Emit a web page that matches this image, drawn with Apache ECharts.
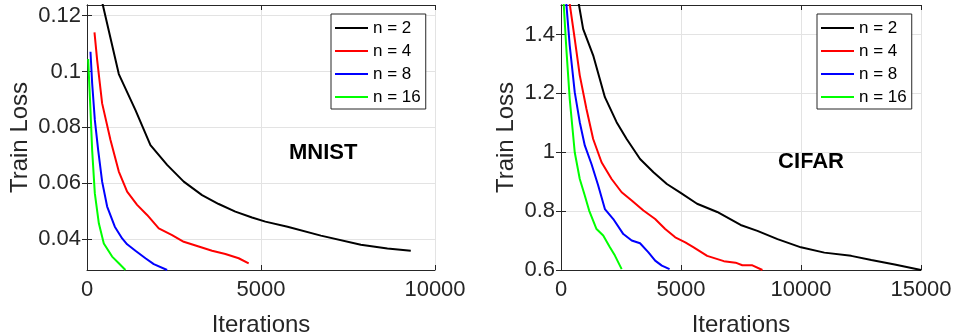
<!DOCTYPE html>
<html>
<head>
<meta charset="utf-8">
<script src="https://cdn.jsdelivr.net/npm/echarts@6/dist/echarts.min.js"></script>
<style>
  html, body { margin: 0; padding: 0; background: #fff; }
  #main { width: 953px; height: 334px; }
</style>
</head>
<body>
<div id="main"></div>
<script>
// legend names
const names = ["n = 2", "n = 4", "n = 8", "n = 16"];
const colors = ["#000000", "#ff0000", "#0000ff", "#00ff00"];

// MNIST panel: [iterations, train loss]
const mnistN2 = [[340, 0.130], [455, 0.1238], [914, 0.0991], [1393, 0.0862], [1823, 0.0737], [2302, 0.0666],
  [2780, 0.0606], [3306, 0.0558], [3785, 0.0526], [4263, 0.0499], [4742, 0.0478], [5125, 0.0463],
  [5763, 0.0445], [6721, 0.0413], [7869, 0.0380], [8633, 0.0367], [9304, 0.0359]];
const mnistN4 = [[215, 0.114], [292, 0.1041], [435, 0.0886], [675, 0.0755], [914, 0.0642], [1153, 0.0570],
  [1440, 0.0523], [1727, 0.0487], [2062, 0.0439], [2445, 0.0415], [2780, 0.0391], [3210, 0.0374],
  [3593, 0.0359], [3976, 0.0347], [4359, 0.0332], [4646, 0.0314]];
const mnistN8 = [[100, 0.1071], [148, 0.0958], [225, 0.0827], [321, 0.0719], [435, 0.0606], [579, 0.0517],
  [799, 0.0445], [1010, 0.0403], [1153, 0.0382], [1392, 0.0359], [1679, 0.0332], [1919, 0.0311], [2302, 0.0290]];
const mnistN16 = [[33, 0.1045], [100, 0.0862], [148, 0.0719], [225, 0.0564], [340, 0.0457], [483, 0.0385],
  [722, 0.0338], [914, 0.0314], [1105, 0.0290]];

// CIFAR panel: [iterations, train loss]
const cifarN2 = [[650, 1.60], [740, 1.504], [921, 1.419], [1340, 1.329], [1829, 1.187], [2317, 1.102], [2736, 1.045],
  [3294, 0.977], [3853, 0.932], [4411, 0.892], [4971, 0.863], [5670, 0.825], [6508, 0.797], [7484, 0.753],
  [8183, 0.733], [9021, 0.705], [9997, 0.677], [10973, 0.659], [12091, 0.648], [12929, 0.634], [13904, 0.619],
  [15000, 0.600]];
const cifarN4 = [[290, 1.59], [363, 1.504], [572, 1.385], [782, 1.261], [1061, 1.147], [1340, 1.045], [1689, 0.966],
  [2108, 0.909], [2527, 0.864], [2946, 0.836], [3434, 0.802], [3923, 0.773], [4341, 0.739], [4760, 0.711],
  [5179, 0.694], [5528, 0.677], [6090, 0.648], [6784, 0.630], [7275, 0.625], [7555, 0.616], [7974, 0.616],
  [8393, 0.600]];
const cifarN8 = [[180, 1.56], [223, 1.504], [363, 1.363], [572, 1.204], [782, 1.102], [991, 1.023], [1270, 0.960],
  [1550, 0.887], [1829, 0.807], [2178, 0.773], [2597, 0.722], [2946, 0.700], [3294, 0.691], [3643, 0.660],
  [3923, 0.632], [4202, 0.615], [4523, 0.603]];
const cifarN16 = [[80, 1.60], [112, 1.504], [223, 1.351], [363, 1.181], [572, 1.000], [782, 0.909], [991, 0.853],
  [1173, 0.802], [1480, 0.739], [1759, 0.717], [2038, 0.677], [2247, 0.649], [2527, 0.603]];

// tick labels
const mnistXTicks = [0, 5000, 10000];
const mnistYTicks = [0.04, 0.06, 0.08, 0.1, 0.12];
const cifarXTicks = [0, 5000, 10000, 15000];
const cifarYTicks = [0.6, 0.8, 1, 1.2, 1.4];

const FONT = "Liberation Sans";
const AXIS_COLOR = "#262626";
const GRID_COLOR = "#e3e3e3";

function xAxisMain(grid, ticks, min, max) {
  return {
    type: "value", gridIndex: grid, position: "bottom", min: min, max: max,
    name: "Iterations", nameLocation: "middle", nameGap: 43,
    nameTextStyle: { fontFamily: FONT, fontSize: 24, color: AXIS_COLOR },
    axisLine: { show: true, lineStyle: { color: AXIS_COLOR, width: 1 } },
    axisTick: { show: true, inside: true, length: 5, customValues: ticks, lineStyle: { color: AXIS_COLOR } },
    axisLabel: {
      customValues: ticks, margin: 9, fontFamily: FONT, fontSize: 22, color: AXIS_COLOR,
      formatter: function(v) { return String(v); }
    },
    splitLine: { show: true, lineStyle: { color: GRID_COLOR, width: 1 } }
  };
}
function xAxisTop(grid, ticks, min, max) {
  return {
    type: "value", gridIndex: grid, position: "top", min: min, max: max,
    axisLine: { show: true, lineStyle: { color: AXIS_COLOR, width: 1 } },
    axisTick: { show: true, inside: true, length: 5, customValues: ticks, lineStyle: { color: AXIS_COLOR } },
    axisLabel: { show: false, customValues: ticks },
    splitLine: { show: false }
  };
}
function yAxisMain(grid, ticks, min, max, gap) {
  return {
    type: "value", gridIndex: grid, position: "left", min: min, max: max,
    name: "Train Loss", nameLocation: "middle", nameGap: gap,
    nameTextStyle: { fontFamily: FONT, fontSize: 24, color: AXIS_COLOR },
    axisLine: { show: true, lineStyle: { color: AXIS_COLOR, width: 1 } },
    axisTick: { show: true, inside: true, length: 5, customValues: ticks, lineStyle: { color: AXIS_COLOR } },
    axisLabel: { customValues: ticks, margin: 6, fontFamily: FONT, fontSize: 22, color: AXIS_COLOR },
    splitLine: { show: true, lineStyle: { color: GRID_COLOR, width: 1 } }
  };
}
function yAxisRight(grid, ticks, min, max) {
  return {
    type: "value", gridIndex: grid, position: "right", min: min, max: max,
    axisLine: { show: true, lineStyle: { color: AXIS_COLOR, width: 1 } },
    axisTick: { show: true, inside: true, length: 5, customValues: ticks, lineStyle: { color: AXIS_COLOR } },
    axisLabel: { show: false, customValues: ticks },
    splitLine: { show: false }
  };
}
function lineSeries(i, data, xi, yi) {
  return {
    name: names[i], type: "line", data: data, xAxisIndex: xi, yAxisIndex: yi,
    showSymbol: false, symbol: "none", clip: true, z: 10 - i,
    lineStyle: { color: colors[i], width: 2 }, itemStyle: { color: colors[i] }
  };
}
function legendAt(left) {
  return {
    data: names, orient: "vertical", align: "left", left: left, top: 14,
    icon: "rect", itemWidth: 33, itemHeight: 2, itemGap: 3,
    padding: [4, 5, 2, 4],
    borderColor: AXIS_COLOR, borderWidth: 1, backgroundColor: "#fff",
    selectedMode: false,
    textStyle: { fontFamily: FONT, fontSize: 17, color: "#000", lineHeight: 20 }
  };
}

let myChart = echarts.init(document.getElementById("main"), null, { renderer: "canvas" });
let option = {
  animation: false,
  backgroundColor: "#fff",
  grid: [
    { left: 87, top: 5, width: 348, height: 265, outerBoundsMode: "none" },
    { left: 561, top: 5, width: 360, height: 265, outerBoundsMode: "none" }
  ],
  xAxis: [
    xAxisMain(0, mnistXTicks, 0, 10000),
    xAxisTop(0, mnistXTicks, 0, 10000),
    xAxisMain(1, cifarXTicks, 0, 15000),
    xAxisTop(1, cifarXTicks, 0, 15000)
  ],
  yAxis: [
    yAxisMain(0, mnistYTicks, 0.029, 0.1238, 55),
    yAxisRight(0, mnistYTicks, 0.029, 0.1238),
    yAxisMain(1, cifarYTicks, 0.6, 1.5, 43),
    yAxisRight(1, cifarYTicks, 0.6, 1.5)
  ],
  legend: [legendAt(331), legendAt(817)],
  graphic: [
    { type: "text", left: 289, top: 142, style: { text: "MNIST", fontFamily: FONT, fontWeight: "bold", fontSize: 22, fill: "#000" } },
    { type: "text", left: 778, top: 151, style: { text: "CIFAR", fontFamily: FONT, fontWeight: "bold", fontSize: 22, fill: "#000" } }
  ],
  series: [
    lineSeries(0, mnistN2, 0, 0),
    lineSeries(1, mnistN4, 0, 0),
    lineSeries(2, mnistN8, 0, 0),
    lineSeries(3, mnistN16, 0, 0),
    lineSeries(0, cifarN2, 2, 2),
    lineSeries(1, cifarN4, 2, 2),
    lineSeries(2, cifarN8, 2, 2),
    lineSeries(3, cifarN16, 2, 2)
  ]
};
myChart.setOption(option);
</script>
</body>
</html>
